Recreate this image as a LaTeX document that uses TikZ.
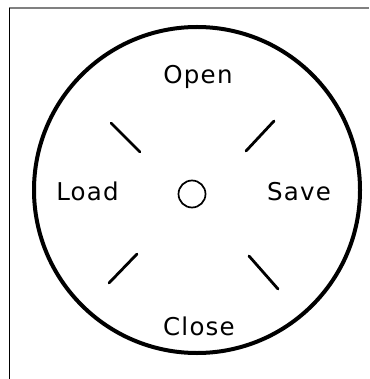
\documentclass[tikz,border=0pt]{standalone}
\usepackage{fontspec}
\setmainfont{DejaVu Sans}[LetterSpace=5]
\begin{document}
\begin{tikzpicture}[x=1pt,y=-1pt,
  lbl/.style={anchor=base,inner sep=0pt,font=\fontsize{24.5}{28}\selectfont},
  tick/.style={line width=2.8pt,line cap=round}]
\useasboundingbox (0,0) rectangle (369,379);
\draw[gray,line width=1.3pt] (9,8) -- (369,8);
\draw[black,line width=0.9pt] (9,8) -- (9,379);
\node[draw,circle,line width=4pt,minimum size=326pt,inner sep=0pt] (dial) at (197,190) {};
\node[draw,circle,line width=1.7pt,minimum size=27pt,inner sep=0pt] (hub) at (192,194) {};
\node[lbl] (open) at (198,84) {Open};
\node[lbl] (load) at (87.5,200) {Load};
\node[lbl] (save) at (299,200) {Save};
\node[lbl] (close) at (199,335) {Close};
\draw[tick] (111,123) -- (140,152);
\draw[tick] (246,151) -- (274,121);
\draw[tick] (109,283) -- (137,254);
\draw[tick] (249,256) -- (278,289);
\end{tikzpicture}
\end{document}
